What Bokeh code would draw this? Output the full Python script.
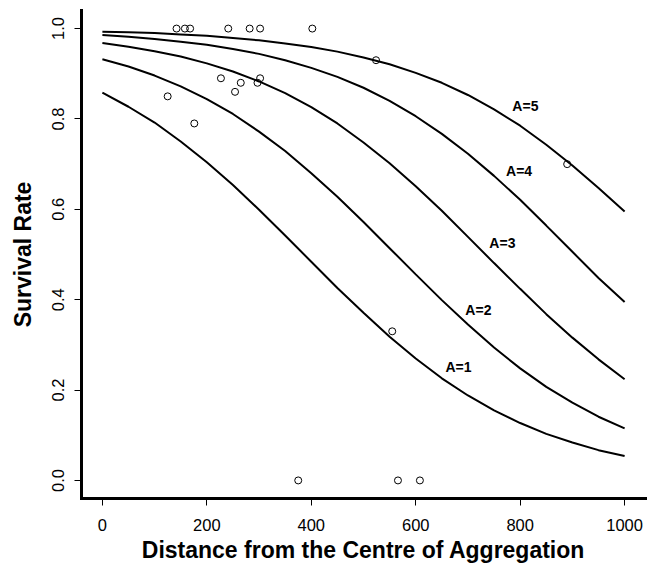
from bokeh.plotting import figure
from bokeh.models import Range1d, FixedTicker, NumeralTickFormatter, ColumnDataSource
from bokeh.core.properties import value
from bokeh.embed import file_html
from bokeh.resources import INLINE

# ---- data ----
curve_x = [0, 50, 100, 150, 200, 250, 300, 350, 400, 450, 500,
           550, 600, 650, 700, 750, 800, 850, 900, 950, 1000]
surv_a1 = [0.858, 0.827, 0.792, 0.750, 0.704, 0.654, 0.599, 0.542, 0.484, 0.426, 0.371,
           0.318, 0.270, 0.226, 0.188, 0.155, 0.127, 0.103, 0.084, 0.067, 0.054]
surv_a2 = [0.932, 0.916, 0.896, 0.872, 0.844, 0.811, 0.772, 0.729, 0.680, 0.628, 0.572,
           0.514, 0.456, 0.399, 0.345, 0.294, 0.248, 0.207, 0.172, 0.141, 0.115]
surv_a3 = [0.968, 0.960, 0.950, 0.938, 0.923, 0.905, 0.883, 0.857, 0.826, 0.790, 0.748,
           0.702, 0.651, 0.597, 0.539, 0.481, 0.424, 0.368, 0.316, 0.268, 0.224]
surv_a4 = [0.986, 0.982, 0.977, 0.971, 0.964, 0.955, 0.944, 0.930, 0.913, 0.893, 0.869,
           0.840, 0.806, 0.767, 0.723, 0.674, 0.621, 0.564, 0.506, 0.448, 0.395]
surv_a5 = [0.993, 0.992, 0.990, 0.987, 0.984, 0.979, 0.974, 0.967, 0.959, 0.949, 0.936,
           0.921, 0.902, 0.880, 0.853, 0.821, 0.785, 0.743, 0.697, 0.647, 0.595]
curves = [surv_a1, surv_a2, surv_a3, surv_a4, surv_a5]

obs_dist = [125, 142, 158, 168, 176, 227, 241, 254, 265, 282,
            297, 302, 302, 375, 402, 524, 555, 566, 608, 890]
obs_surv = [0.85, 1.0, 1.0, 1.0, 0.79, 0.89, 1.0, 0.86, 0.88, 1.0,
            0.88, 0.89, 1.0, 0.0, 1.0, 0.93, 0.33, 0.0, 0.0, 0.70]

curve_labels = ["A=1", "A=2", "A=3", "A=4", "A=5"]
label_x = [682, 720, 766, 798, 810]
label_y = [0.251, 0.378, 0.525, 0.684, 0.829]

x_ticks = [0, 200, 400, 600, 800, 1000]
y_ticks = [0.0, 0.2, 0.4, 0.6, 0.8, 1.0]

# ---- figure ----
p = figure(width=651, height=565,
           x_range=Range1d(-40, 1040), y_range=Range1d(-0.04, 1.04),
           output_backend="svg", toolbar_location=None,
           min_border_left=81, min_border_right=6,
           min_border_top=10, min_border_bottom=10)
p.outline_line_color = None
p.xgrid.visible = False
p.ygrid.visible = False
p.background_fill_color = "white"
p.border_fill_color = "white"

for ys in curves:
    p.line(curve_x, ys, line_color="black", line_width=2)

p.scatter(obs_dist, obs_surv, marker="circle", size=7, fill_color=None,
          line_color="black", line_width=1)

src = ColumnDataSource(dict(x=label_x, y=label_y, t=curve_labels))
p.text(x="x", y="y", text="t", source=src, text_align="center",
       text_baseline="middle", text_font=value("Liberation Sans"),
       text_font_style="bold", text_font_size="14px", text_color="black")

for ax in (p.xaxis[0], p.yaxis[0]):
    ax.axis_line_width = 3
    ax.axis_line_cap = "square"
    ax.axis_line_color = "black"
    ax.major_tick_in = 0
    ax.major_tick_out = 7
    ax.major_tick_line_width = 1
    ax.minor_tick_line_color = None
    ax.major_label_text_font = "Liberation Sans"
    ax.major_label_text_font_size = "16.5px"
    ax.major_label_text_color = "black"
    ax.axis_label_text_font = "Liberation Sans"
    ax.axis_label_text_font_style = "bold"
    ax.axis_label_text_font_size = "23px"
    ax.axis_label_text_color = "black"

p.xaxis.ticker = FixedTicker(ticks=x_ticks)
p.yaxis.ticker = FixedTicker(ticks=y_ticks)
p.yaxis.formatter = NumeralTickFormatter(format="0.0")
p.yaxis.major_label_orientation = "vertical"
p.xaxis.major_label_standoff = 13
p.yaxis.major_label_standoff = 10
p.xaxis.axis_label = "Distance from the Centre of Aggregation"
p.yaxis.axis_label = "Survival Rate"
p.xaxis.axis_label_standoff = 3
p.yaxis.axis_label_standoff = 14

open("out.html", "w").write(file_html(p, INLINE))
